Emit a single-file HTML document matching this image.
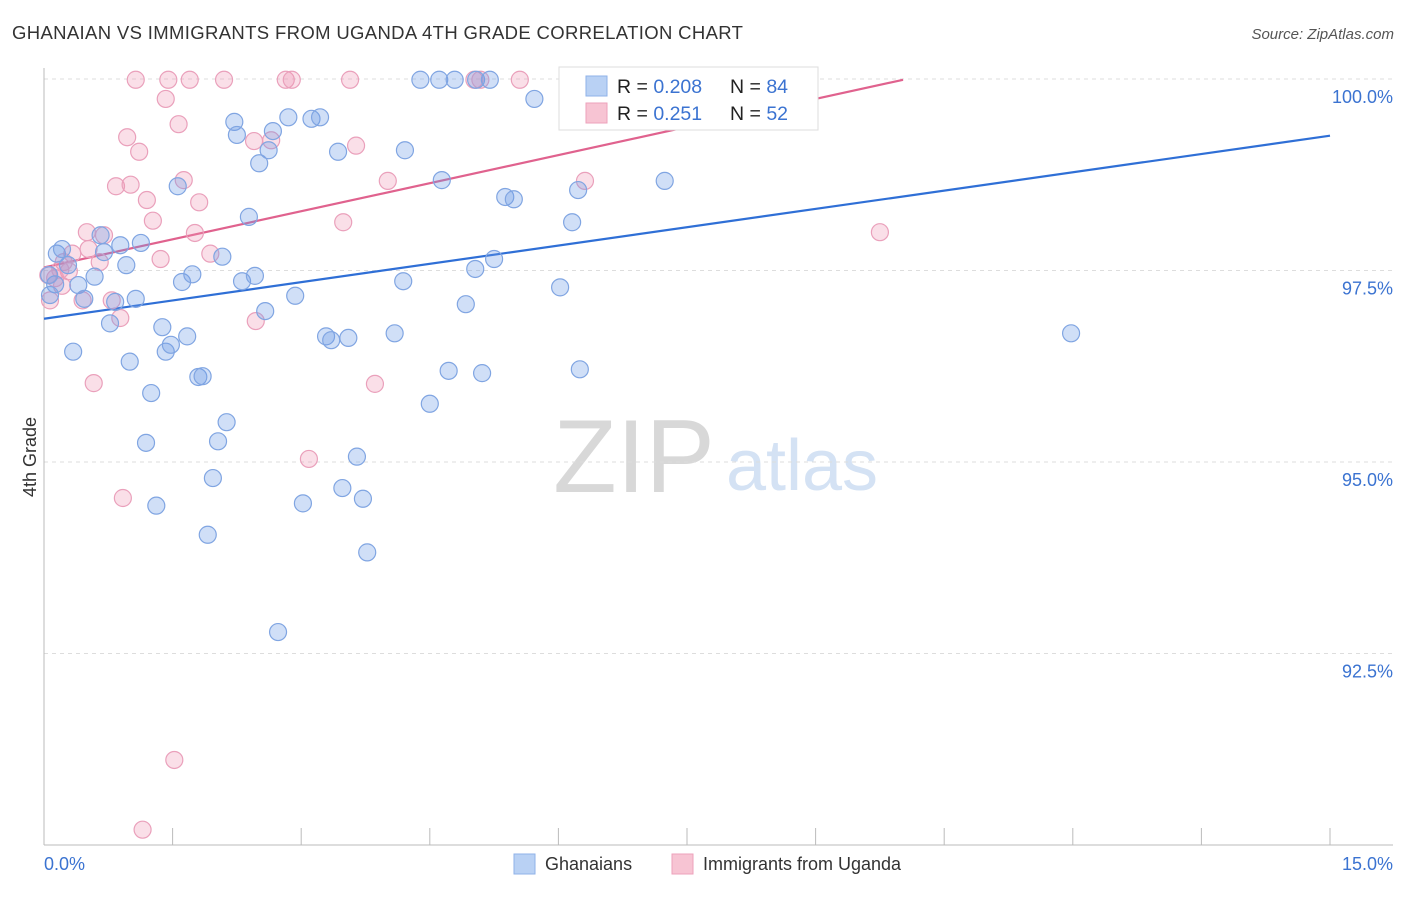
<!DOCTYPE html>
<html><head><meta charset="utf-8"><style>
body{margin:0;background:#fff;font-family:"Liberation Sans",sans-serif;}
svg text{font-family:"Liberation Sans",sans-serif;}
</style></head><body>
<svg id="chart" width="1406" height="892" xmlns="http://www.w3.org/2000/svg">
<text x="12" y="39" font-size="18.5" letter-spacing="0.35" fill="#333">GHANAIAN VS IMMIGRANTS FROM UGANDA 4TH GRADE CORRELATION CHART</text>
<text x="1394" y="39" font-size="15" fill="#555" font-style="italic" text-anchor="end">Source: ZipAtlas.com</text>
<text x="36" y="457" font-size="18" fill="#333" transform="rotate(-90 36 457)" text-anchor="middle">4th Grade</text>
<g>
<text x="634" y="492" font-size="104" fill="#d8d8d8" font-family="Liberation Serif" text-anchor="middle">ZIP</text>
<text x="802" y="490" font-size="72" fill="#d4e2f4" text-anchor="middle">atlas</text>
</g>
<g id="grid"></g><g id="axes"></g><g id="lines"></g><g id="pts"></g>
<g>
<rect x="559" y="67" width="259" height="63" fill="#fff" stroke="#ddd"/>
<rect x="586" y="76" width="21" height="20" fill="#b9d1f4" stroke="#8fb2e8"/>
<rect x="586" y="103" width="21" height="20" fill="#f7c4d3" stroke="#eda2bb"/>
<text x="617" y="93" font-size="19.5" fill="#222">R = <tspan fill="#3b73d1">0.208</tspan></text>
<text x="730" y="93" font-size="19.5" fill="#222">N = <tspan fill="#3b73d1">84</tspan></text>
<text x="617" y="120" font-size="19.5" fill="#222">R =  <tspan fill="#3b73d1">0.251</tspan></text>
<text x="730" y="120" font-size="19.5" fill="#222">N = <tspan fill="#3b73d1">52</tspan></text>
</g>
<g>
<rect x="514" y="854" width="21" height="20" fill="#b9d1f4" stroke="#8fb2e8"/>
<text x="545" y="870" font-size="18" fill="#333">Ghanaians</text>
<rect x="672" y="854" width="21" height="20" fill="#f7c4d3" stroke="#eda2bb"/>
<text x="703" y="870" font-size="18" fill="#333">Immigrants from Uganda</text>
</g>
</svg>
<script>
const blueX=[0.15,0.21,0.28,0.13,0.40,0.47,0.34,0.59,0.77,0.83,0.89,0.96,0.70,0.66,1.00,1.07,1.13,1.25,1.19,1.31,1.38,1.42,1.48,1.56,1.61,1.67,1.73,1.80,1.85,1.91,1.97,2.03,2.08,2.13,2.22,2.25,2.31,2.39,2.46,2.51,2.58,2.62,2.67,2.73,2.85,2.93,3.02,3.12,3.22,3.29,3.35,3.43,3.48,3.55,3.65,3.72,3.77,4.09,4.19,4.21,4.39,4.50,4.61,4.64,4.72,4.79,4.92,5.04,5.03,5.11,5.20,5.25,5.38,5.48,5.72,6.02,6.16,6.23,6.25,6.92,7.24,11.98,0.07,0.06];
const blueY=[97.72,97.78,97.57,97.32,97.31,97.13,96.44,97.42,96.81,97.09,97.83,97.57,97.74,97.96,96.31,97.13,97.86,95.90,95.25,94.43,96.76,96.44,96.53,98.60,97.35,96.64,97.45,96.11,96.12,94.05,94.79,95.27,97.68,95.52,99.44,99.27,97.36,98.20,97.43,98.90,96.97,99.07,99.32,92.78,99.50,97.17,94.46,99.48,99.50,96.64,96.59,99.05,94.66,96.62,95.07,94.52,93.82,96.68,97.36,99.07,99.99,95.76,99.99,98.68,96.19,99.99,97.06,99.99,97.52,96.16,99.99,97.65,98.46,98.43,99.74,97.28,98.13,98.55,96.21,99.99,98.67,96.68,97.18,97.44];
const pinkX=[1.07,1.45,1.70,2.10,2.82,2.89,3.57,5.02,5.09,5.55,1.42,1.57,0.97,1.11,2.65,3.64,0.84,1.01,1.20,1.63,1.81,1.27,1.76,2.45,3.49,4.01,6.31,9.75,0.50,0.70,0.52,0.33,0.23,0.65,1.36,1.94,0.29,0.13,0.21,0.45,0.79,0.89,2.47,0.58,3.86,3.09,0.92,1.52,1.15,0.07,0.05,0.19];
const pinkY=[99.99,99.99,99.99,99.99,99.99,99.99,99.99,99.99,99.99,99.99,99.74,99.41,99.24,99.05,99.20,99.13,98.60,98.62,98.42,98.68,98.39,98.15,97.99,99.19,98.13,98.67,98.67,98.00,98.00,97.96,97.78,97.72,97.61,97.61,97.65,97.72,97.49,97.40,97.30,97.11,97.11,96.88,96.84,96.03,96.02,95.04,94.53,91.11,90.20,97.11,97.44,97.51];
const blueTrend=[[0,96.87],[15,99.26]];
const pinkTrend=[[0,97.54],[10.02,99.99]];
const yTicks=[100,97.5,95,92.5];
const yTickLabels=["100.0%","97.5%","95.0%","92.5%"];
const xTicks=[0,1.5,3,4.5,6,7.5,9,10.5,12,13.5,15];
const NS="http://www.w3.org/2000/svg";
const X=v=>44+v*(1286/15);
const Y=v=>79+(100-v)*(191.5/2.5);
function mk(tag,attrs,parent){const e=document.createElementNS(NS,tag);for(const k in attrs)e.setAttribute(k,attrs[k]);document.getElementById(parent).appendChild(e);return e;}
yTicks.forEach((t,i)=>{
 const g=mk('line',{x1:44,x2:1393,y1:Y(t),y2:Y(t),stroke:'#ddd','stroke-dasharray':'4,4'},'grid');
 
 
 const l=mk('text',{x:1393,y:Y(t)+24,'font-size':18,fill:'#3b73d1','text-anchor':'end'},'axes');
 l.textContent=yTickLabels[i];
 
 
});
mk('line',{x1:44,x2:44,y1:68,y2:845,stroke:'#bbb'},'axes');
mk('line',{x1:44,x2:1393,y1:845,y2:845,stroke:'#bbb'},'axes');
xTicks.forEach(t=>{const e=mk('line',{x1:X(t),x2:X(t),y1:828,y2:845,stroke:'#bbb'},'axes');
 
 });
const xl0=mk('text',{x:44,y:870,'font-size':18,fill:'#3b73d1'},'axes');xl0.textContent='0.0%';


const xl1=mk('text',{x:1393,y:870,'font-size':18,fill:'#3b73d1','text-anchor':'end'},'axes');xl1.textContent='15.0%';


function dots(xs,ys,fill,stroke,name){xs.forEach((x,i)=>{const c=mk('circle',{cx:X(x),cy:Y(ys[i]),r:8.5,fill:fill,stroke:stroke,'stroke-width':1.2},'pts');
 
 });}
dots(pinkX,pinkY,'rgba(240,150,180,0.3)','#eaa0bb','point-uganda');
dots(blueX,blueY,'rgba(110,155,230,0.32)','#80a5e2','point-ghanaian');
const bl=mk('line',{x1:X(blueTrend[0][0]),y1:Y(blueTrend[0][1]),x2:X(blueTrend[1][0]),y2:Y(blueTrend[1][1]),stroke:'#2f6fd6','stroke-width':2.2},'lines');


const pl=mk('line',{x1:X(pinkTrend[0][0]),y1:Y(pinkTrend[0][1]),x2:X(pinkTrend[1][0]),y2:Y(pinkTrend[1][1]),stroke:'#e0628e','stroke-width':2.2},'lines');


</script>
</body></html>
